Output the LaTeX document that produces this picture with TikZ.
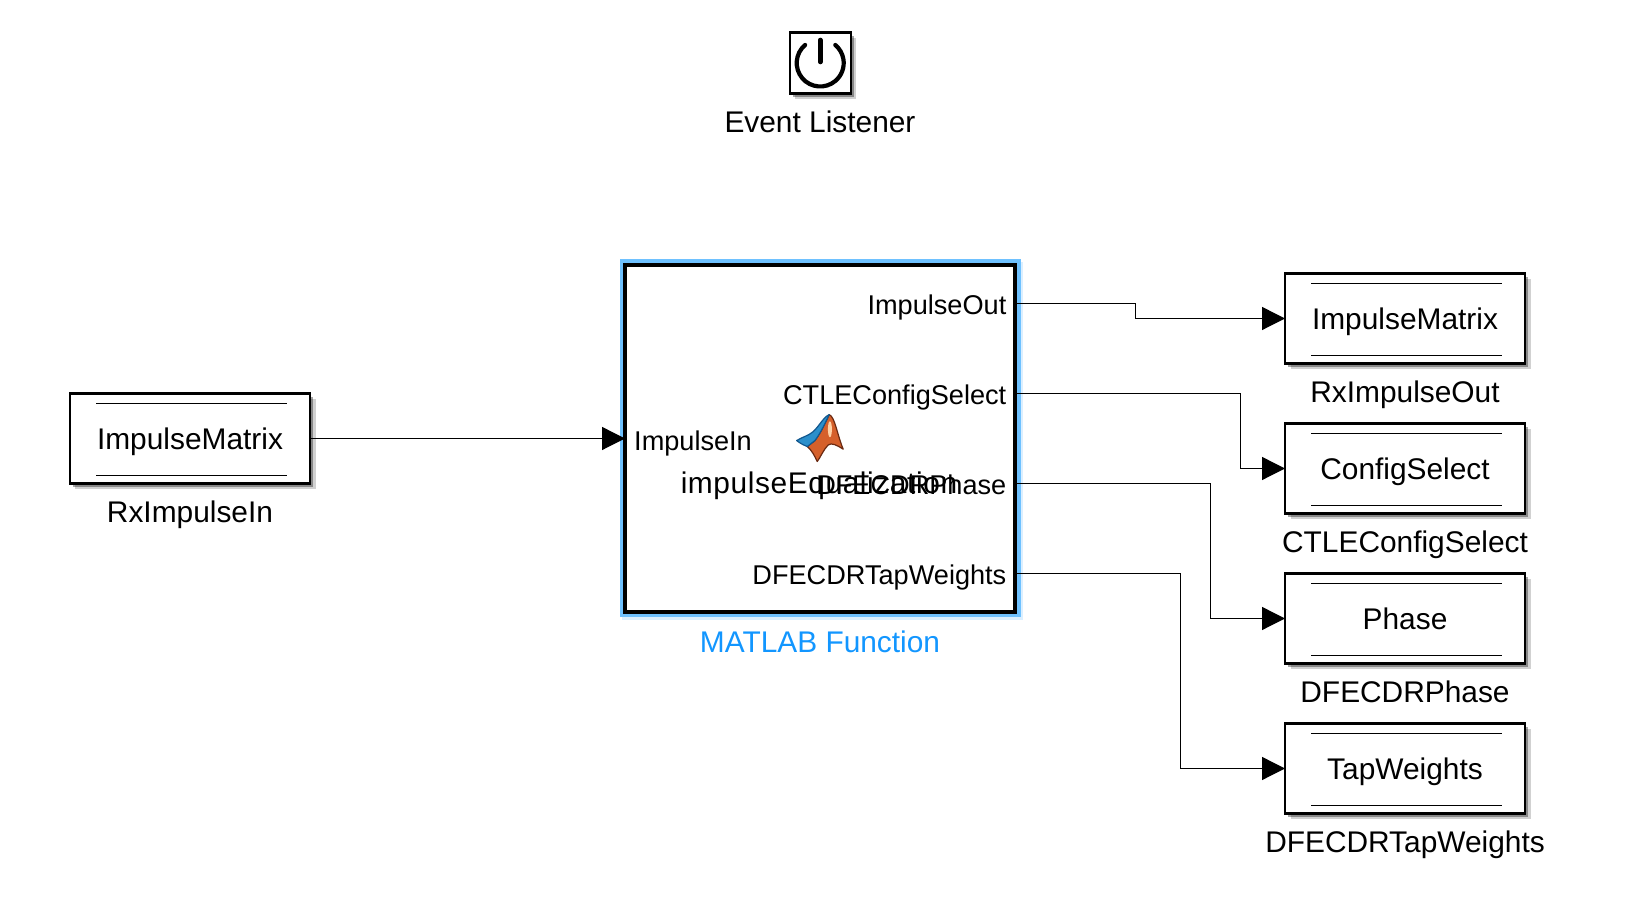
\documentclass[tikz,border=0pt]{standalone}
\usepackage{fontspec}
\setmainfont{Liberation Sans}
\usetikzlibrary{positioning, calc, arrows.meta, shadows}
\definecolor{selblue}{HTML}{6EC1FF}
\definecolor{labelblue}{HTML}{1296FF}
\definecolor{logoorange}{HTML}{D5602B}
\definecolor{logoedge}{HTML}{6B2A12}
\definecolor{logoblue}{HTML}{2B8FCB}
\definecolor{logoblueedge}{HTML}{12588F}
\tikzset{
    softshadow/.style={drop shadow={shadow xshift=0.055cm, shadow yshift=-0.06cm, opacity=0.18, fill=black},
        drop shadow={shadow xshift=0.03cm, shadow yshift=-0.035cm, opacity=0.35, fill=black}},
    blockbox/.style={draw, fill=white, line width=0.023cm, outer sep=0pt, inner sep=0pt, softshadow},
    blocktext/.style={font=\fontsize{8.5}{10}\selectfont, inner sep=0pt, anchor=base},
    porttext/.style={font=\fontsize{7.72}{10}\selectfont, inner sep=0pt},
    wire/.style={line width=0.012cm},
    wirearrow/.style={wire, -{Triangle[length=0.23cm,width=0.23cm]}}
}
\newcommand{\busblock}[5]{
    \node[blockbox, minimum width=2.4cm, minimum height=0.9cm] (#1) at (#2,#3) {};
    \node[blocktext] (#1text) at (#2,#3-0.115) {#4};
    \draw[wire] ($(#1.north west)+(0.26,-0.1)$) -- ($(#1.north east)+(-0.23,-0.1)$);
    \draw[wire] ($(#1.south west)+(0.26,0.08)$) -- ($(#1.south east)+(-0.23,0.08)$);
    \node[blocktext] (#1label) at (#2,#3-0.84) {#5};
}
\newcommand{\outport}[3]{
    \coordinate (#1) at (10.173,#2);
    \node[porttext, anchor=base east] (#1text) at (10.07,#2-0.113) {#3};
}
\begin{document}
\begin{tikzpicture}
    \useasboundingbox (0,0) rectangle (16.34,9.01);
    \node[blockbox, minimum size=0.61cm] (listener) at (8.202,8.38) {};
    \draw[line width=0.042cm, line cap=round] ($(listener.center)+(-0.151,0.18)$) arc[start angle=130, delta angle=280, radius=0.235cm];
    \draw[line width=0.046cm, line cap=round] ($(listener.center)+(0,0.23)$) -- ($(listener.center)+(0,0.01)$);
    \node[blocktext] (listenerlabel) at (8.2,7.683) {Event Listener};
    \node[fill=selblue, minimum width=4.007cm, minimum height=3.58cm, inner sep=0pt, outer sep=0pt, drop shadow={shadow xshift=0.025cm, shadow yshift=-0.025cm, opacity=0.25, fill=selblue}] (mainsel) at (8.203,4.627) {};
    \node[draw, fill=white, line width=0.037cm, minimum width=3.9cm, minimum height=3.47cm, inner sep=0pt, outer sep=0pt] (mainblock) at (mainsel.center) {};
    \node[blocktext, text=labelblue] (mainlabel) at (8.2,2.485) {MATLAB Function};
    \begin{scope}[shift={(7.8,5.01)}, x=0.0033333cm, y=-0.0033333cm]
        \draw[fill=logoorange, draw=logoedge, line width=0.012cm, line join=round] (148,44) .. controls (165,50) and (172,105) .. (190,148) .. controls (170,135) and (155,128) .. (145,135) .. controls (130,150) and (122,172) .. (112,185) .. controls (105,170) and (95,150) .. (82,140) -- (105,122) .. controls (125,95) and (135,70) .. cycle;
        \draw[fill=logoblue, draw=logoblueedge, line width=0.012cm, line join=round] (50,122) .. controls (65,112) and (85,108) .. (100,95) .. controls (118,78) and (132,50) .. (148,44) .. controls (135,70) and (125,95) .. (105,122) -- (82,140) .. controls (70,135) and (60,130) .. cycle;
        \fill[orange!35!white] (150,88) ellipse[x radius=6, y radius=24];
    \end{scope}
    \node[blocktext, font=\fontsize{8.5}{10}\selectfont\addfontfeature{LetterSpace=2}] (fcnname) at (8.19,4.073) {impulseEqualization};
    \coordinate (inport) at (6.25,4.625);
    \node[porttext, anchor=base west] (inporttext) at (6.335,4.507) {ImpulseIn};
    \outport{impulseout}{5.975}{ImpulseOut}
    \outport{ctleout}{5.075}{CTLEConfigSelect}
    \outport{phaseout}{4.175}{DFECDRPhase}
    \outport{tapout}{3.275}{DFECDRTapWeights}
    \busblock{rxin}{1.9}{4.625}{ImpulseMatrix}{RxImpulseIn}
    \busblock{rxout}{14.05}{5.825}{ImpulseMatrix}{RxImpulseOut}
    \busblock{configsel}{14.05}{4.325}{ConfigSelect}{CTLEConfigSelect}
    \busblock{phase}{14.05}{2.825}{Phase}{DFECDRPhase}
    \busblock{tapweights}{14.05}{1.325}{TapWeights}{DFECDRTapWeights}
    \draw[wirearrow] (rxin.east) -- (inport);
    \draw[wirearrow] (impulseout) -- (11.355,5.975) |- (rxout.west);
    \draw[wirearrow] (ctleout) -- (12.405,5.075) |- (configsel.west);
    \draw[wirearrow] (phaseout) -- (12.105,4.175) |- (phase.west);
    \draw[wirearrow] (tapout) -- (11.805,3.275) |- (tapweights.west);
\end{tikzpicture}
\end{document}
